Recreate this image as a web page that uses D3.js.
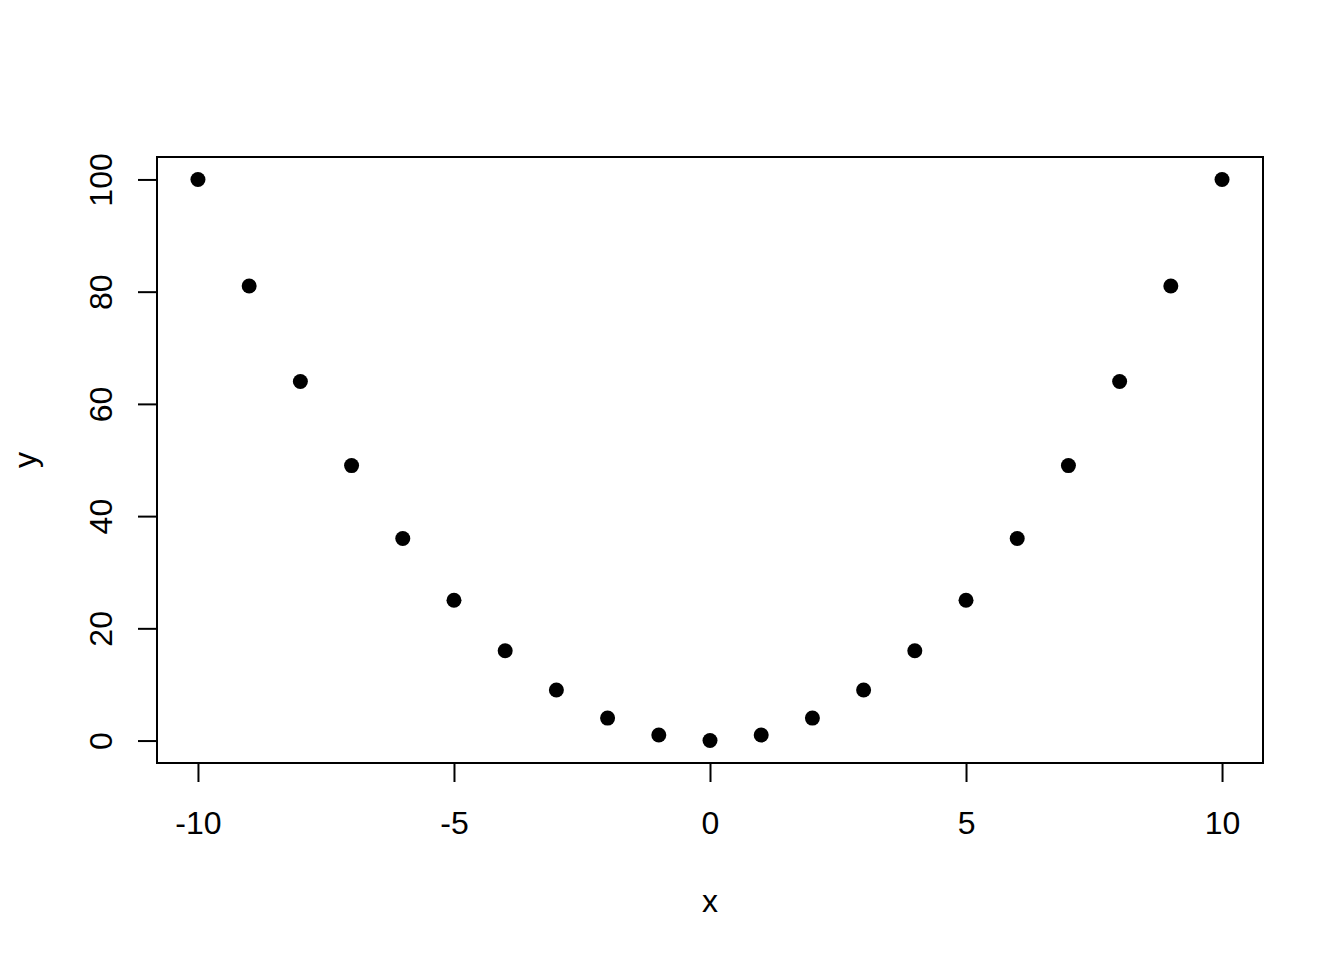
<!DOCTYPE html>
<html lang="en">
<head>
  <meta charset="utf-8">
  <title>y = x^2</title>
  <script src="https://d3js.org/d3.v7.min.js"></script>
  <style>
    body { margin: 0; background: #fff; }
    text { font-family: "Liberation Sans", Arial, Helvetica, sans-serif; font-size: 32px; fill: #000; }
  </style>
</head>
<body>
<div id="my_dataviz"></div>
<script>
const xValues = [-10, -9, -8, -7, -6, -5, -4, -3, -2, -1, 0, 1, 2, 3, 4, 5, 6, 7, 8, 9, 10];
const yValues = [100, 81, 64, 49, 36, 25, 16, 9, 4, 1, 0, 1, 4, 9, 16, 25, 36, 49, 64, 81, 100];
const xTicks = [-10, -5, 0, 5, 10];
const yTicks = [0, 20, 40, 60, 80, 100];

const W = 1344, H = 960;
// plot box as R draws it
const margin = {top: 157, right: 81, bottom: 197, left: 157},
    width = W - margin.left - margin.right,
    height = H - margin.top - margin.bottom;

const svg = d3.select("#my_dataviz")
  .append("svg")
    .attr("width", W)
    .attr("height", H);

const g = svg.append("g")
    .attr("transform", `translate(${margin.left},${margin.top})`);

// R pads the data range by 4% on each side
const x = d3.scaleLinear().domain([-10.8, 10.8]).range([0, width]);
const y = d3.scaleLinear().domain([-4, 104]).range([height, 0]);

// x axis
const xAxis = g.append("g")
  .attr("transform", `translate(0,${height})`)
  .call(d3.axisBottom(x).tickValues(xTicks).tickSize(19).tickPadding(0).tickFormat(d3.format("d")));
xAxis.select(".domain")
  .attr("d", `M${x(xTicks[0])},0H${x(xTicks[xTicks.length - 1])}`)
  .attr("stroke-width", 2);
xAxis.selectAll(".tick line").attr("stroke-width", 2);
xAxis.selectAll(".tick text")
  .attr("dy", null)
  .attr("y", 71)
  .text(d => d < 0 ? "-" + Math.abs(d) : d)
  .style("font-size", "32px")
  .style("font-family", "'Liberation Sans', Arial, sans-serif");

// y axis
const yAxis = g.append("g")
  .call(d3.axisLeft(y).tickValues(yTicks).tickSize(19).tickPadding(0));
yAxis.select(".domain")
  .attr("d", `M0,${y(yTicks[0])}V${y(yTicks[yTicks.length - 1])}`)
  .attr("stroke-width", 2);
yAxis.selectAll(".tick line").attr("stroke-width", 2);
yAxis.selectAll(".tick text")
  .attr("x", null).attr("dy", null)
  .attr("text-anchor", "middle")
  .attr("transform", "translate(-45,0) rotate(-90)")
  .style("font-size", "32px")
  .style("font-family", "'Liberation Sans', Arial, sans-serif");

// box
g.append("rect")
  .attr("x", 0).attr("y", 0)
  .attr("width", width).attr("height", height)
  .attr("fill", "none")
  .attr("stroke", "#000")
  .attr("stroke-width", 2);

// points
g.selectAll("circle")
  .data(xValues.map((d, i) => ({x: d, y: yValues[i]})))
  .join("circle")
    .attr("cx", d => x(d.x))
    .attr("cy", d => y(d.y))
    .attr("r", 7.5)
    .attr("fill", "#000");

// axis titles
svg.append("text")
  .attr("x", margin.left + x(0))
  .attr("y", 912)
  .attr("text-anchor", "middle")
  .text("x");

svg.append("text")
  .attr("transform", `translate(36,${margin.top + height / 2}) rotate(-90)`)
  .attr("text-anchor", "middle")
  .text("y");
</script>
</body>
</html>
